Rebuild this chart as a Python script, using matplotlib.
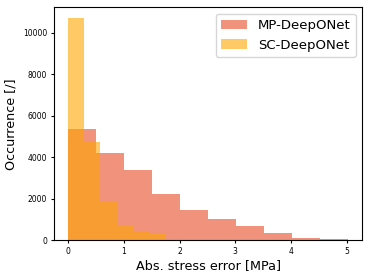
import numpy as np
import matplotlib
matplotlib.use("Agg")
import matplotlib.pyplot as plt

# bin edges and counts
mp_edges = np.linspace(0, 5.03, 11)
mp_counts = [5360, 4200, 3380, 2250, 1450, 1050, 680, 370, 130, 70]

sc_edges = np.linspace(0, 2.9, 11)
sc_counts = [10700, 4750, 1830, 760, 440, 330, 80, 30, 15, 8]

fig, ax = plt.subplots(figsize=(3.71, 2.78), dpi=100)
ax.hist(mp_edges[:-1], bins=mp_edges, weights=mp_counts, color="#E64925",
        alpha=0.6, label="MP-DeepONet")
ax.hist(sc_edges[:-1], bins=sc_edges, weights=sc_counts, color="orange",
        alpha=0.6, label="SC-DeepONet")

ax.set_xlabel("Abs. stress error [MPa]", fontsize=9.2, labelpad=2)
ax.set_ylabel("Occurrence [/]", fontsize=9.2, labelpad=4)
ax.tick_params(labelsize=5.5, length=2.5, pad=2.5)
ax.set_xticks([0, 1, 2, 3, 4, 5])
ax.legend(fontsize=9.5, loc="upper right")

fig.subplots_adjust(left=0.146, right=0.977, top=0.974, bottom=0.135)
fig.savefig("out.png", dpi=100)
